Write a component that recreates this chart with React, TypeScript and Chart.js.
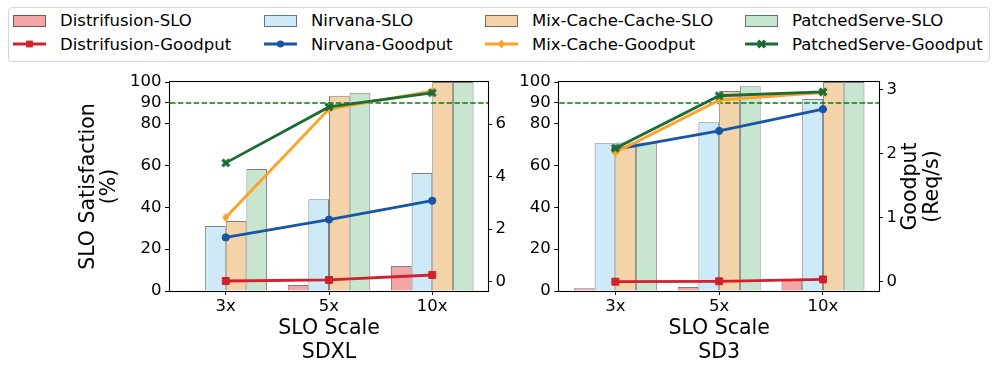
import React, { useEffect, useRef } from 'react';
import { Chart, registerables } from 'chart.js';

Chart.register(...registerables);

// ---------- data ----------
const categories = ['3x', '5x', '10x'];
const xPositions = [0, 1, 2];
const leftTicks = [0, 20, 40, 60, 80, 90, 100];
const sloTarget = 90;

const sdxlDistrifusionSLO = [0.3, 2.9, 12.0];
const sdxlNirvanaSLO = [31.1, 43.9, 56.4];
const sdxlMixCacheSLO = [33.5, 93.4, 100];
const sdxlPatchedSLO = [58.4, 94.9, 100];
const sdxlDistrifusionGoodput = [0.02, 0.06, 0.25];
const sdxlNirvanaGoodput = [1.68, 2.36, 3.08];
const sdxlMixCacheGoodput = [2.44, 6.57, 7.25];
const sdxlPatchedGoodput = [4.52, 6.65, 7.19];
const sdxlGoodputTicks = [0, 2, 4, 6];

const sd3DistrifusionSLO = [1.3, 1.9, 5.7];
const sd3NirvanaSLO = [70.7, 80.7, 91.9];
const sd3MixCacheSLO = [71.0, 95.7, 100];
const sd3PatchedSLO = [71.0, 98.0, 100];
const sd3DistrifusionGoodput = [0.0, 0.006, 0.035];
const sd3NirvanaGoodput = [2.07, 2.36, 2.7];
const sd3MixCacheGoodput = [2.02, 2.84, 2.96];
const sd3PatchedGoodput = [2.09, 2.91, 2.97];
const sd3GoodputTicks = [0, 1, 2, 3];

// ---------- styles ----------
const FONT = 'DejaVu Sans';
const barColors = ['rgba(240,128,128,0.7)', '#cfeaf7', '#f4d3a8', '#c8e6cf'];
const barEdge = 'rgba(0,0,0,0.5)';
const lineColors = ['#d0222c', '#1755a5', '#ffa126', '#1b6b35'];
const sloNames = ['Distrifusion-SLO', 'Nirvana-SLO', 'Mix-Cache-Cache-SLO', 'PatchedServe-SLO'];
const goodNames = ['Distrifusion-Goodput', 'Nirvana-Goodput', 'Mix-Cache-Goodput', 'PatchedServe-Goodput'];

function makeMarker(kind: string, color: string) {
  const c = document.createElement('canvas');
  const s = 12;
  c.width = s;
  c.height = s;
  const g = c.getContext('2d')!;
  g.fillStyle = color;
  g.strokeStyle = color;
  if (kind === 'diamond') {
    g.beginPath();
    g.moveTo(6, 1.5);
    g.lineTo(9.6, 6);
    g.lineTo(6, 10.5);
    g.lineTo(2.4, 6);
    g.closePath();
    g.fill();
  } else {
    g.lineWidth = 3.2;
    g.beginPath();
    g.moveTo(2.6, 2.6);
    g.lineTo(9.4, 9.4);
    g.moveTo(9.4, 2.6);
    g.lineTo(2.6, 9.4);
    g.stroke();
  }
  return c;
}

type Spec = {
  slo: number[][];
  good: number[][];
  y1Min: number;
  y1Max: number;
  y1Ticks: number[];
  xTitle: string[];
  leftWidth: number;
  rightWidth: number;
  yTitle: boolean;
  y1Title: boolean;
};

const sdxlSpec: Spec = {
  slo: [sdxlDistrifusionSLO, sdxlNirvanaSLO, sdxlMixCacheSLO, sdxlPatchedSLO],
  good: [sdxlDistrifusionGoodput, sdxlNirvanaGoodput, sdxlMixCacheGoodput, sdxlPatchedGoodput],
  y1Min: -0.36,
  y1Max: 7.6,
  y1Ticks: sdxlGoodputTicks,
  xTitle: ['SLO Scale', 'SDXL'],
  leftWidth: 170,
  rightWidth: 27,
  yTitle: true,
  y1Title: false,
};

const sd3Spec: Spec = {
  slo: [sd3DistrifusionSLO, sd3NirvanaSLO, sd3MixCacheSLO, sd3PatchedSLO],
  good: [sd3DistrifusionGoodput, sd3NirvanaGoodput, sd3MixCacheGoodput, sd3PatchedGoodput],
  y1Min: -0.146,
  y1Max: 3.125,
  y1Ticks: sd3GoodputTicks,
  xTitle: ['SLO Scale', 'SD3'],
  leftWidth: 44.3,
  rightWidth: 118,
  yTitle: false,
  y1Title: true,
};

const CANVAS_TOP = 62;
const CANVAS_H = 309;
const AREA_TOP = 20;
const AREA_BOTTOM = 229;

function buildConfig(spec: Spec): any {
  const xy = (arr: number[]) => arr.map((v, i) => ({ x: xPositions[i], y: v }));
  const pointStyles: any[] = ['rect', 'circle', makeMarker('diamond', lineColors[2]), makeMarker('x', lineColors[3])];
  const pointRadii = [4.9, 3.6, 5, 5];

  const barSets = spec.slo.map((arr, i) => ({
    type: 'bar',
    label: sloNames[i],
    data: xy(arr),
    backgroundColor: barColors[i],
    borderColor: barEdge,
    borderWidth: 1,
    yAxisID: 'y',
    order: 10,
    categoryPercentage: 0.8,
    barPercentage: 1.0,
  }));
  const lineSets = spec.good.map((arr, i) => ({
    type: 'line',
    label: goodNames[i],
    data: xy(arr),
    borderColor: lineColors[i],
    backgroundColor: lineColors[i],
    borderWidth: 2.8,
    pointStyle: pointStyles[i],
    pointRadius: pointRadii[i],
    pointBorderWidth: 1,
    pointBorderColor: lineColors[i],
    pointBackgroundColor: lineColors[i],
    yAxisID: 'y1',
    order: 3 - i,
    tension: 0,
    fill: false,
  }));

  const tickFont = { family: FONT, size: 16.5 };
  const titleFont = { family: FONT, size: 20.5 };

  const plugins = [
    {
      id: 'sloTargetLine',
      beforeDatasetsDraw(chart: any) {
        chart.$dashDone = false;
      },
      beforeDatasetDraw(chart: any, args: any) {
        if (args.meta.type !== 'line' || chart.$dashDone) return;
        chart.$dashDone = true;
        const { ctx, chartArea } = chart;
        const y = chart.scales.y.getPixelForValue(sloTarget);
        ctx.save();
        ctx.strokeStyle = '#008000';
        ctx.lineWidth = 1.5;
        ctx.setLineDash([5.5, 2.4]);
        ctx.beginPath();
        ctx.moveTo(chartArea.left, y);
        ctx.lineTo(chartArea.right, y);
        ctx.stroke();
        ctx.restore();
      },
    },
    {
      id: 'frameAndTitle',
      afterDraw(chart: any) {
        const { ctx, chartArea } = chart;
        ctx.save();
        ctx.strokeStyle = '#000';
        ctx.lineWidth = 1.1;
        const l = Math.round(chartArea.left) - 0.5;
        const t = Math.round(chartArea.top) - 0.5;
        const r = Math.round(chartArea.right) + 0.5;
        const b = Math.round(chartArea.bottom) + 0.5;
        ctx.strokeRect(l, t, r - l, b - t);
        if (spec.y1Title) {
          const cy = (chartArea.top + chartArea.bottom) / 2;
          const cx = chartArea.right + 32;
          ctx.translate(cx, cy);
          ctx.rotate(-Math.PI / 2);
          ctx.fillStyle = '#000';
          ctx.font = `20.5px "${FONT}"`;
          ctx.textAlign = 'center';
          ctx.textBaseline = 'middle';
          ctx.fillText('Goodput', 0, 0);
          ctx.fillText('(Req/s)', 0, 21.5);
        }
        ctx.restore();
      },
    },
  ];

  return {
    type: 'bar',
    data: { datasets: [...barSets, ...lineSets] },
    plugins,
    options: {
      animation: false,
      responsive: false,
      devicePixelRatio: 1,
      events: [],
      layout: { padding: { top: AREA_TOP, left: 0, right: 0, bottom: 0 } },
      plugins: { legend: { display: false }, tooltip: { enabled: false }, title: { display: false } },
      scales: {
        x: {
          type: 'linear',
          position: 'bottom',
          min: -0.54,
          max: 2.54,
          offset: false,
          grid: { display: true, drawOnChartArea: false, drawTicks: true, tickLength: 4, color: '#000', offset: false },
          border: { display: false },
          afterBuildTicks: (scale: any) => {
            scale.ticks = xPositions.map((v) => ({ value: v }));
          },
          ticks: {
            font: tickFont,
            color: '#000',
            padding: 2,
            maxRotation: 0,
            autoSkip: false,
            callback: (v: any) => categories[xPositions.indexOf(Number(v))] ?? '',
          },
          title: {
            display: true,
            text: spec.xTitle,
            font: { ...titleFont, lineHeight: '23.4px' },
            color: '#000',
            padding: { top: 0, bottom: 6.9 },
          },
          afterFit: (scale: any) => {
            scale.height = CANVAS_H - AREA_BOTTOM;
          },
        },
        y: {
          type: 'linear',
          position: 'left',
          min: 0,
          max: 100,
          grid: { display: true, drawOnChartArea: false, drawTicks: true, tickLength: 5, color: '#000' },
          border: { display: false },
          afterBuildTicks: (scale: any) => {
            scale.ticks = leftTicks.map((v) => ({ value: v }));
          },
          ticks: { font: tickFont, color: '#000', padding: 3.5, callback: (v: any) => String(v) },
          title: {
            display: spec.yTitle,
            text: ['SLO Satisfaction', '(%)'],
            font: { ...titleFont, lineHeight: '20.5px' },
            color: '#000',
            padding: { top: 78.9, bottom: 0 },
          },
          afterFit: (scale: any) => {
            scale.width = spec.leftWidth;
          },
        },
        y1: {
          type: 'linear',
          position: 'right',
          min: spec.y1Min,
          max: spec.y1Max,
          grid: { display: true, drawOnChartArea: false, drawTicks: true, tickLength: 4, color: '#000' },
          border: { display: false },
          afterBuildTicks: (scale: any) => {
            scale.ticks = spec.y1Ticks.map((v) => ({ value: v }));
          },
          ticks: { font: tickFont, color: '#000', padding: 3.5, callback: (v: any) => String(v) },
          afterFit: (scale: any) => {
            scale.width = spec.rightWidth;
          },
        },
      },
    },
  };
}

function Panel({ spec, left, width }: { spec: Spec; left: number; width: number }) {
  const ref = useRef<HTMLCanvasElement>(null);
  useEffect(() => {
    if (!ref.current) return;
    const chart = new Chart(ref.current, buildConfig(spec));
    return () => chart.destroy();
  }, [spec]);
  return (
    <canvas
      ref={ref}
      width={width}
      height={CANVAS_H}
      style={{ position: 'absolute', left, top: CANVAS_TOP, width, height: CANVAS_H }}
    />
  );
}

const legendPatchX = [13, 264, 485, 745];
const legendTextX = [60, 311, 532, 792];

function LineHandle({ i }: { i: number }) {
  const c = lineColors[i];
  let marker: any = null;
  if (i === 0) marker = <rect x={13.1} y={2.6} width={6.8} height={6.8} fill={c} />;
  if (i === 1) marker = <circle cx={16.5} cy={6} r={3.6} fill={c} />;
  if (i === 2) marker = <polygon points="16.5,1.5 20.1,6 16.5,10.5 12.9,6" fill={c} />;
  if (i === 3)
    marker = (
      <g stroke={c} strokeWidth={3.2}>
        <line x1={13.1} y1={2.6} x2={19.9} y2={9.4} />
        <line x1={19.9} y1={2.6} x2={13.1} y2={9.4} />
      </g>
    );
  return (
    <svg width={33} height={12} style={{ position: 'absolute', left: legendPatchX[i], top: 38 }}>
      <line x1={0} y1={6} x2={33} y2={6} stroke={c} strokeWidth={2.8} />
      {marker}
    </svg>
  );
}

function Legend() {
  const textStyle = (x: number, top: number): React.CSSProperties => ({
    position: 'absolute',
    left: x,
    top,
    fontFamily: FONT,
    fontSize: 16.5,
    lineHeight: '20px',
    color: '#000',
    whiteSpace: 'nowrap',
  });
  return (
    <div>
      <div
        style={{
          position: 'absolute',
          left: 8,
          top: 7,
          width: 980,
          height: 53,
          border: '1px solid #d6d6d6',
          borderRadius: 4,
          background: '#fff',
        }}
      />
      {sloNames.map((n, i) => (
        <React.Fragment key={n}>
          <div
            style={{
              position: 'absolute',
              left: legendPatchX[i],
              top: 15,
              width: 33,
              height: 11.7,
              boxSizing: 'border-box',
              background: barColors[i],
              border: `1px solid ${barEdge}`,
            }}
          />
          <div style={textStyle(legendTextX[i], 11.1)}>{n}</div>
        </React.Fragment>
      ))}
      {goodNames.map((n, i) => (
        <React.Fragment key={n}>
          <LineHandle i={i} />
          <div style={textStyle(legendTextX[i], 34.5)}>{n}</div>
        </React.Fragment>
      ))}
    </div>
  );
}

export default function App() {
  return (
    <div style={{ position: 'absolute', left: 0, top: 0, width: 997, height: 371, background: '#fff', overflow: 'hidden' }}>
      <Legend />
      <Panel spec={sdxlSpec} left={0} width={515} />
      <Panel spec={sd3Spec} left={515} width={482} />
    </div>
  );
}
